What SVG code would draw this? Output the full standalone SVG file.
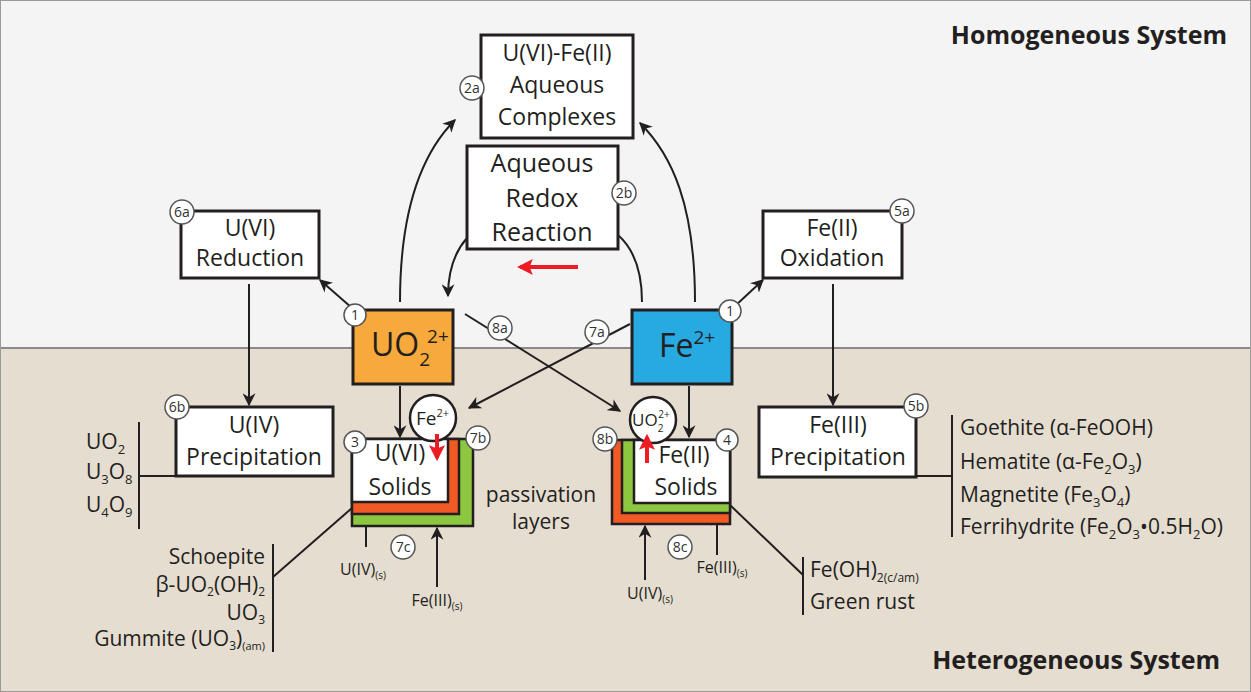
<svg xmlns="http://www.w3.org/2000/svg" width="1251" height="692" viewBox="0 0 1251 692">
<defs>
<style>
text{font-family:"Open Sans","Noto Sans","Liberation Sans",sans-serif;fill:#231f20}
.bx{fill:#fff;stroke:#231f20;stroke-width:3}
.t23{font-size:23px;text-anchor:middle}
.t25{font-size:25px;text-anchor:middle}
.t21{font-size:21px}
.sm{font-size:16px;text-anchor:middle}
.ln{fill:none;stroke:#231f20;stroke-width:2}
.ar{fill:none;stroke:#231f20;stroke-width:2;marker-end:url(#ah)}
.rd{fill:none;stroke:#ed1c24;stroke-width:4;marker-end:url(#rh)}
.cc{fill:#fff;stroke:#555;stroke-width:1.5}
.ct{font-size:14px;text-anchor:middle;fill:#333}
.ttl{font-size:25px;font-weight:bold;text-anchor:end}
</style>
<marker id="ah" viewBox="0 0 10 10" refX="9" refY="5" markerWidth="6.5" markerHeight="6.5" orient="auto" markerUnits="strokeWidth">
<path d="M0,0 L10,5 L0,10 L3,5 z" fill="#231f20"/>
</marker>
<marker id="rh" viewBox="0 0 10 10" refX="8" refY="5" markerWidth="4" markerHeight="4" orient="auto" markerUnits="strokeWidth">
<path d="M0,0 L10,5 L0,10 L2,5 z" fill="#ed1c24"/>
</marker>
</defs>

<rect x="0" y="0" width="1251" height="348" fill="#f4f4f4"/>
<rect x="0" y="348" width="1251" height="344" fill="#e5ddd0"/>
<line x1="0" y1="348" x2="1251" y2="348" stroke="#8a8a8a" stroke-width="2"/>
<rect x="0.5" y="0.5" width="1250" height="691" fill="none" stroke="#9a9a9a" stroke-width="1"/>

<text class="ttl" x="1227" y="44">Homogeneous System</text>
<text class="ttl" x="1220" y="669">Heterogeneous System</text>

<g id="connectors">
<path class="ar" d="M400,302 C400,205 425,150 455,120"/>
<path class="ar" d="M695,302 C695,205 672,155 640,123"/>
<path class="ar" d="M467,238 C452,255 448,275 448,296"/>
<path class="ln" d="M618,235 C635,250 642,275 642,302"/>
<path class="ar" d="M352,308 L320,280"/>
<path class="ar" d="M735,306 L763,280"/>
<path class="ar" d="M249,284 L249,405"/>
<path class="ar" d="M833,284 L833,405"/>
<path class="ar" d="M400,386 L400,437"/>
<path class="ar" d="M689,386 L689,437"/>
<path class="ar" d="M465,314 L620,411"/>
<path class="ar" d="M630,324 L469,408"/>
<path class="ar" d="M366,547 L366,515"/>
<path class="ar" d="M437,587 L437,528"/>
<path class="ar" d="M645,580 L645,526"/>
<path class="ar" d="M717,555 L717,514"/>
<path class="ln" d="M139,422 L139,529 M139,476 L176,476"/>
<path class="ln" d="M273,544 L273,652 M273,577 L352,508"/>
<path class="ln" d="M952,415 L952,537 M916,476 L952,476"/>
<path class="ln" d="M730,505 L803,575 M803,557 L803,615"/>
<path class="rd" d="M578,267 L520,267"/>
</g>

<g id="n2a">
<rect class="bx" x="481" y="35" width="152" height="103"/>
<text class="t23" x="557" y="61">U(VI)-Fe(II)</text>
<text class="t23" x="557" y="93">Aqueous</text>
<text class="t23" x="557" y="125">Complexes</text>
<circle class="cc" cx="472" cy="88" r="12"/><text class="ct" x="472" y="93">2a</text>
</g>

<g id="n2b">
<rect class="bx" x="467" y="146" width="151" height="103"/>
<text class="t25" x="542" y="172">Aqueous</text>
<text class="t25" x="542" y="207">Redox</text>
<text class="t25" x="542" y="241">Reaction</text>
<circle class="cc" cx="624" cy="193" r="12"/><text class="ct" x="624" y="198">2b</text>
</g>

<g id="n6a">
<rect class="bx" x="181" y="211" width="138" height="67"/>
<text class="t23" x="250" y="236">U(VI)</text>
<text class="t23" x="250" y="266">Reduction</text>
<circle class="cc" cx="182" cy="212" r="12"/><text class="ct" x="182" y="217">6a</text>
</g>

<g id="n5a">
<rect class="bx" x="763" y="211" width="139" height="67"/>
<text class="t23" x="832" y="236">Fe(II)</text>
<text class="t23" x="832" y="266">Oxidation</text>
<circle class="cc" cx="902" cy="211" r="12"/><text class="ct" x="902" y="216">5a</text>
</g>

<g id="nUO2">
<rect x="353" y="310" width="100" height="74" fill="#f8a93b" stroke="#231f20" stroke-width="3"/>
<text x="371" y="356" style="font-size:32px">UO<tspan dy="10" style="font-size:19px">2</tspan><tspan dy="-23" dx="-3" style="font-size:19px">2+</tspan></text>
<circle class="cc" cx="355" cy="315" r="11"/><text class="ct" x="355" y="320">1</text>
</g>

<g id="nFe">
<rect x="632" y="310" width="100" height="74" fill="#27a9e1" stroke="#231f20" stroke-width="3"/>
<text x="659" y="357" style="font-size:32px">Fe<tspan dy="-13" style="font-size:19px">2+</tspan></text>
<circle class="cc" cx="730" cy="311" r="11"/><text class="ct" x="730" y="316">1</text>
</g>

<circle class="cc" cx="500" cy="328" r="12"/><text class="ct" x="500" y="333">8a</text>
<circle class="cc" cx="597" cy="332" r="12"/><text class="ct" x="597" y="337">7a</text>

<g id="n6b">
<rect class="bx" x="176" y="407" width="157" height="69"/>
<text class="t23" x="254" y="433">U(IV)</text>
<text class="t23" x="254" y="465">Precipitation</text>
<circle class="cc" cx="177" cy="407" r="12"/><text class="ct" x="177" y="412">6b</text>
</g>

<g id="n5b">
<rect class="bx" x="759" y="407" width="157" height="70"/>
<text class="t23" x="838" y="433">Fe(III)</text>
<text class="t23" x="838" y="465">Precipitation</text>
<circle class="cc" cx="916" cy="406" r="12"/><text class="ct" x="916" y="411">5b</text>
</g>

<g id="n3">
<rect x="352" y="439" width="121" height="87" fill="#8dc63f" stroke="#231f20" stroke-width="2.5"/>
<rect x="352" y="439" width="107" height="75" fill="#f15a24" stroke="#231f20" stroke-width="2.5"/>
<rect x="352" y="439" width="96" height="63" fill="#fff" stroke="#231f20" stroke-width="2.5"/>
<text class="t23" x="400" y="461">U(VI)</text>
<text class="t23" x="400" y="495">Solids</text>
<circle cx="433" cy="418" r="23" fill="#fff" stroke="#231f20" stroke-width="2.5"/>
<text x="416" y="425" style="font-size:19px">Fe<tspan dy="-8" style="font-size:11px">2+</tspan></text>
<path class="rd" d="M437,434 L437,458"/>
<circle class="cc" cx="355" cy="442" r="11"/><text class="ct" x="355" y="447">3</text>
<circle class="cc" cx="478" cy="438" r="12"/><text class="ct" x="478" y="443">7b</text>
<circle class="cc" cx="403" cy="547" r="12"/><text class="ct" x="403" y="552">7c</text>
<text class="sm" x="363" y="575">U(IV)<tspan dy="4" style="font-size:10px">(s)</tspan></text>
<text class="sm" x="437" y="606">Fe(III)<tspan dy="4" style="font-size:10px">(s)</tspan></text>
</g>

<g id="n4">
<rect x="612" y="440" width="118" height="84" fill="#f15a24" stroke="#231f20" stroke-width="2.5"/>
<rect x="622" y="440" width="108" height="73" fill="#8dc63f" stroke="#231f20" stroke-width="2.5"/>
<rect x="634" y="440" width="96" height="63" fill="#fff" stroke="#231f20" stroke-width="2.5"/>
<text class="t23" x="684" y="463">Fe(II)</text>
<text class="t23" x="686" y="495">Solids</text>
<circle cx="653" cy="420" r="23" fill="#fff" stroke="#231f20" stroke-width="2.5"/>
<text x="632" y="426" style="font-size:17px">UO<tspan dy="6" style="font-size:10px">2</tspan><tspan dy="-14" dx="-5" style="font-size:10px">2+</tspan></text>
<path class="rd" d="M647,463 L647,437"/>
<circle class="cc" cx="605" cy="439" r="12"/><text class="ct" x="605" y="444">8b</text>
<circle class="cc" cx="727" cy="440" r="11"/><text class="ct" x="727" y="445">4</text>
<circle class="cc" cx="680" cy="547" r="12"/><text class="ct" x="680" y="552">8c</text>
<text class="sm" x="650" y="599">U(IV)<tspan dy="4" style="font-size:10px">(s)</tspan></text>
<text class="sm" x="722" y="573">Fe(III)<tspan dy="4" style="font-size:10px">(s)</tspan></text>
</g>

<text class="t21" x="541" y="502" text-anchor="middle">passivation</text>
<text class="t21" x="541" y="529" text-anchor="middle">layers</text>

<g id="listU4">
<text class="t21" x="86" y="449">UO<tspan dy="5" style="font-size:13px">2</tspan></text>
<text class="t21" x="86" y="479">U<tspan dy="5" style="font-size:13px">3</tspan><tspan dy="-5">O</tspan><tspan dy="5" style="font-size:13px">8</tspan></text>
<text class="t21" x="86" y="512">U<tspan dy="5" style="font-size:13px">4</tspan><tspan dy="-5">O</tspan><tspan dy="5" style="font-size:13px">9</tspan></text>
</g>

<g id="listU6">
<text class="t21" x="265" y="564" text-anchor="end">Schoepite</text>
<text class="t21" x="265" y="592" text-anchor="end">β-UO<tspan dy="4" style="font-size:12px">2</tspan><tspan dy="-4">(OH)</tspan><tspan dy="4" style="font-size:12px">2</tspan></text>
<text class="t21" x="265" y="620" text-anchor="end">UO<tspan dy="4" style="font-size:12px">3</tspan></text>
<text class="t21" x="265" y="646" text-anchor="end">Gummite (UO<tspan dy="4" style="font-size:12px">3</tspan><tspan dy="-4">)</tspan><tspan dy="4" style="font-size:11px">(am)</tspan></text>
</g>

<g id="listFe3">
<text class="t21" x="960" y="435">Goethite (α-FeOOH)</text>
<text class="t21" x="960" y="469">Hematite (α-Fe<tspan dy="5" style="font-size:13px">2</tspan><tspan dy="-5">O</tspan><tspan dy="5" style="font-size:13px">3</tspan><tspan dy="-5">)</tspan></text>
<text class="t21" x="960" y="502">Magnetite (Fe<tspan dy="5" style="font-size:13px">3</tspan><tspan dy="-5">O</tspan><tspan dy="5" style="font-size:13px">4</tspan><tspan dy="-5">)</tspan></text>
<text class="t21" x="960" y="534">Ferrihydrite (Fe<tspan dy="5" style="font-size:13px">2</tspan><tspan dy="-5">O</tspan><tspan dy="5" style="font-size:13px">3</tspan><tspan dy="-5">•0.5H</tspan><tspan dy="5" style="font-size:13px">2</tspan><tspan dy="-5">O)</tspan></text>
</g>

<g id="listFe2">
<text class="t21" x="810" y="577">Fe(OH)<tspan dy="5" style="font-size:12px">2(c/am)</tspan></text>
<text class="t21" x="810" y="609">Green rust</text>
</g>
</svg>
